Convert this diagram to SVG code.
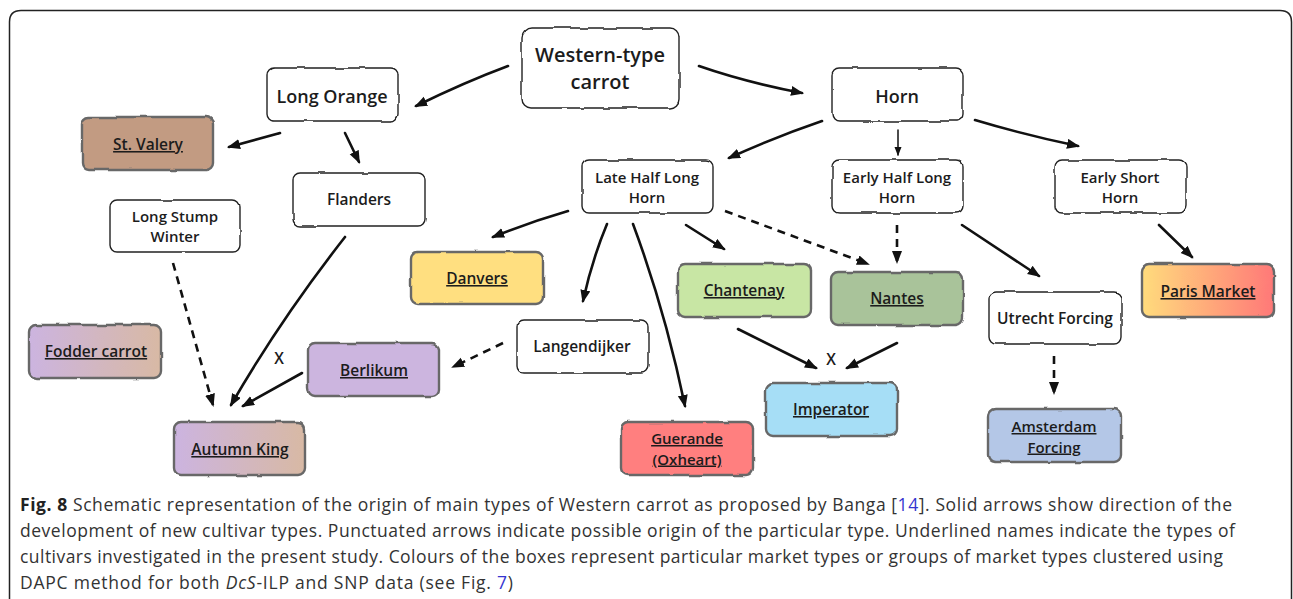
<svg xmlns="http://www.w3.org/2000/svg" width="1293" height="599" viewBox="0 0 1293 599">
<defs>
  <style>
    .box{fill:#fff;stroke:#222;stroke-width:1.4;filter:url(#rough)}
    .cbox{stroke:#686868;stroke-width:2.4;filter:url(#rough)}
    .t{font-family:"Open Sans","Noto Sans",sans-serif;font-weight:600;fill:#1c1c1c;text-anchor:middle}
    .t15{font-size:15.5px}
    .t14{font-size:15px}
    .t17{font-size:18px}
    .t20{font-size:20px}
    .u{text-decoration:underline}
    .c{fill:none;stroke:#111;stroke-width:2.6;stroke-linecap:round;marker-end:url(#ah)}
    .d{stroke-dasharray:8 6;stroke-linecap:butt}
    .thin{stroke-width:1.5;marker-end:url(#ahs)}
    .cap{font-family:"Open Sans","Noto Sans",sans-serif;font-size:17.5px;fill:#333}
  </style>
  <filter id="rough" x="-5%" y="-10%" width="110%" height="120%">
    <feTurbulence type="fractalNoise" baseFrequency="0.045" numOctaves="2" seed="4" result="n"/>
    <feDisplacementMap in="SourceGraphic" in2="n" scale="3" xChannelSelector="R" yChannelSelector="G"/>
  </filter>
  <marker id="ah" markerUnits="userSpaceOnUse" markerWidth="14" markerHeight="11" refX="11" refY="5" orient="auto">
    <path d="M0,0 L13,5 L0,10 Z" fill="#111"/>
  </marker>
  <marker id="ahs" markerUnits="userSpaceOnUse" markerWidth="10" markerHeight="8" refX="8" refY="3.5" orient="auto">
    <path d="M0,0 L9,3.5 L0,7 Z" fill="#111"/>
  </marker>
  <linearGradient id="gPurpleTan" x1="0" y1="0" x2="1" y2="0">
    <stop offset="0" stop-color="#ccb4e0"/>
    <stop offset="1" stop-color="#d8b9a4"/>
  </linearGradient>
  <linearGradient id="gParis" x1="0" y1="0" x2="1" y2="0">
    <stop offset="0" stop-color="#ffdc7c"/>
    <stop offset="1" stop-color="#ff7878"/>
  </linearGradient>
</defs>

<path id="frame" d="M9.5,599 L9.5,22 Q9.5,10.5 21,10.5 L1280,10.5 Q1291.5,10.5 1291.5,22 L1291.5,599" fill="none" stroke="#222" stroke-width="1.5"/>

<g id="connectors">
  <path class="c" d="M508,66 Q465,82 416,106"/>
  <path class="c" d="M699,66 Q745,82 802,93"/>
  <path class="c" d="M280,133 L229,147"/>
  <path class="c" d="M345,133 L359,162"/>
  <path class="c" d="M822,121 Q775,137 729,158"/>
  <path class="c thin" d="M898,130 L898,155"/>
  <path class="c" d="M975,120 Q1025,135 1078,146"/>
  <path class="c" d="M1159,225 L1192,257"/>
  <path class="c" d="M568,211 Q530,222 493,237"/>
  <path class="c" d="M607,224 Q592,260 583,301"/>
  <path class="c" d="M633,224 Q665,310 685,406"/>
  <path class="c" d="M686,225 L724,249"/>
  <path class="c d" d="M725,211 L868,264"/>
  <path class="c d" d="M897,225 L897,262"/>
  <path class="c" d="M962,225 L1039,276"/>
  <path class="c" d="M738,329 L816,368"/>
  <path class="c" d="M897,343 L847,368"/>
  <path class="c d" d="M1054,356 L1054,393"/>
  <path class="c d" d="M503,343 L453,367"/>
  <path class="c d" d="M173,263 L213,405"/>
  <path class="c" d="M345,237 Q280,320 231,405"/>
  <path class="c" d="M302,373 L243,406"/>
  <text class="t t15" x="279" y="364">X</text>
  <text class="t t15" x="831" y="365">X</text>
</g>

<g id="western"><rect class="box" x="522" y="28" width="157" height="80" rx="9"/>
  <text class="t t20"><tspan x="600" y="61.5">Western-type</tspan><tspan x="600" y="89">carrot</tspan></text></g>
<g id="longorange"><rect class="box" x="267" y="68" width="131" height="53" rx="7"/>
  <text class="t t17" x="332" y="103">Long Orange</text></g>
<g id="horn"><rect class="box" x="832" y="68" width="131" height="53" rx="7"/>
  <text class="t t17" x="897" y="103">Horn</text></g>
<g id="stvalery"><rect class="cbox" x="82" y="117" width="131" height="53" rx="7" fill="#c29b82"/>
  <text class="t t15 u" x="148" y="150">St. Valery</text></g>
<g id="flanders"><rect class="box" x="293" y="173" width="132" height="53" rx="7"/>
  <text class="t t15" x="359" y="205">Flanders</text></g>
<g id="longstump"><rect class="box" x="110" y="200" width="130" height="52" rx="7"/>
  <text class="t t14"><tspan x="175" y="221.5">Long Stump</tspan><tspan x="175" y="242">Winter</tspan></text></g>
<g id="latehalflonghorn"><rect class="box" x="582" y="160" width="131" height="53" rx="7"/>
  <text class="t t14"><tspan x="647" y="182.5">Late Half Long</tspan><tspan x="647" y="203">Horn</tspan></text></g>
<g id="earlyhalflonghorn"><rect class="box" x="832" y="160" width="131" height="53" rx="7"/>
  <text class="t t14"><tspan x="897" y="182.5">Early Half Long</tspan><tspan x="897" y="203">Horn</tspan></text></g>
<g id="earlyshorthorn"><rect class="box" x="1055" y="160" width="131" height="53" rx="7"/>
  <text class="t t14"><tspan x="1120" y="182.5">Early Short</tspan><tspan x="1120" y="203">Horn</tspan></text></g>
<g id="danvers"><rect class="cbox" x="411" y="252" width="132" height="52" rx="7" fill="#ffdf80"/>
  <text class="t t15 u" x="477" y="284">Danvers</text></g>
<g id="chantenay"><rect class="cbox" x="678" y="264" width="133" height="53" rx="7" fill="#c8e6a4"/>
  <text class="t t15 u" x="744" y="296">Chantenay</text></g>
<g id="nantes"><rect class="cbox" x="831" y="272" width="132" height="53" rx="7" fill="#a9c39a"/>
  <text class="t t15 u" x="897" y="304">Nantes</text></g>
<g id="utrecht"><rect class="box" x="989" y="292" width="132" height="52" rx="7"/>
  <text class="t t15" x="1055" y="324">Utrecht Forcing</text></g>
<g id="paris"><rect class="cbox" x="1142" y="264" width="132" height="53" rx="7" fill="url(#gParis)"/>
  <text class="t t15 u" x="1208" y="297">Paris Market</text></g>
<g id="fodder"><rect class="cbox" x="29" y="325" width="132" height="53" rx="7" fill="url(#gPurpleTan)"/>
  <text class="t t15 u" x="96" y="357">Fodder carrot</text></g>
<g id="langendijker"><rect class="box" x="517" y="320" width="131" height="53" rx="7"/>
  <text class="t t15" x="582" y="352">Langendijker</text></g>
<g id="berlikum"><rect class="cbox" x="308" y="343" width="131" height="53" rx="7" fill="#ccb5df"/>
  <text class="t t15 u" x="374" y="376">Berlikum</text></g>
<g id="imperator"><rect class="cbox" x="766" y="383" width="131" height="53" rx="7" fill="#a6def6"/>
  <text class="t t15 u" x="831" y="415">Imperator</text></g>
<g id="amsterdam"><rect class="cbox" x="988" y="409" width="133" height="53" rx="7" fill="#b4c7e7"/>
  <text class="t t14 u"><tspan x="1054" y="432">Amsterdam</tspan><tspan x="1054" y="452.5">Forcing</tspan></text></g>
<g id="guerande"><rect class="cbox" x="621" y="422" width="132" height="53" rx="7" fill="#ff7f7f"/>
  <text class="t t14 u"><tspan x="687" y="444">Guerande</tspan><tspan x="687" y="464.5">(Oxheart)</tspan></text></g>
<g id="autumnking"><rect class="cbox" x="174" y="422" width="131" height="53" rx="7" fill="url(#gPurpleTan)"/>
  <text class="t t15 u" x="240" y="455">Autumn King</text></g>

<g id="caption">
  <text class="cap" x="20" y="511" textLength="1212" lengthAdjust="spacing"><tspan font-weight="700" fill="#222">Fig. 8</tspan> Schematic representation of the origin of main types of Western carrot as proposed by Banga [<tspan fill="#3535d0">14</tspan>]. Solid arrows show direction of the</text>
  <text class="cap" x="20" y="537" textLength="1215" lengthAdjust="spacing">development of new cultivar types. Punctuated arrows indicate possible origin of the particular type. Underlined names indicate the types of</text>
  <text class="cap" x="20" y="563" textLength="1203" lengthAdjust="spacing">cultivars investigated in the present study. Colours of the boxes represent particular market types or groups of market types clustered using</text>
  <text class="cap" x="20" y="589" textLength="493" lengthAdjust="spacing">DAPC method for both <tspan font-style="italic">DcS</tspan>-ILP and SNP data (see Fig. <tspan fill="#3535d0">7</tspan>)</text>
</g>
</svg>
